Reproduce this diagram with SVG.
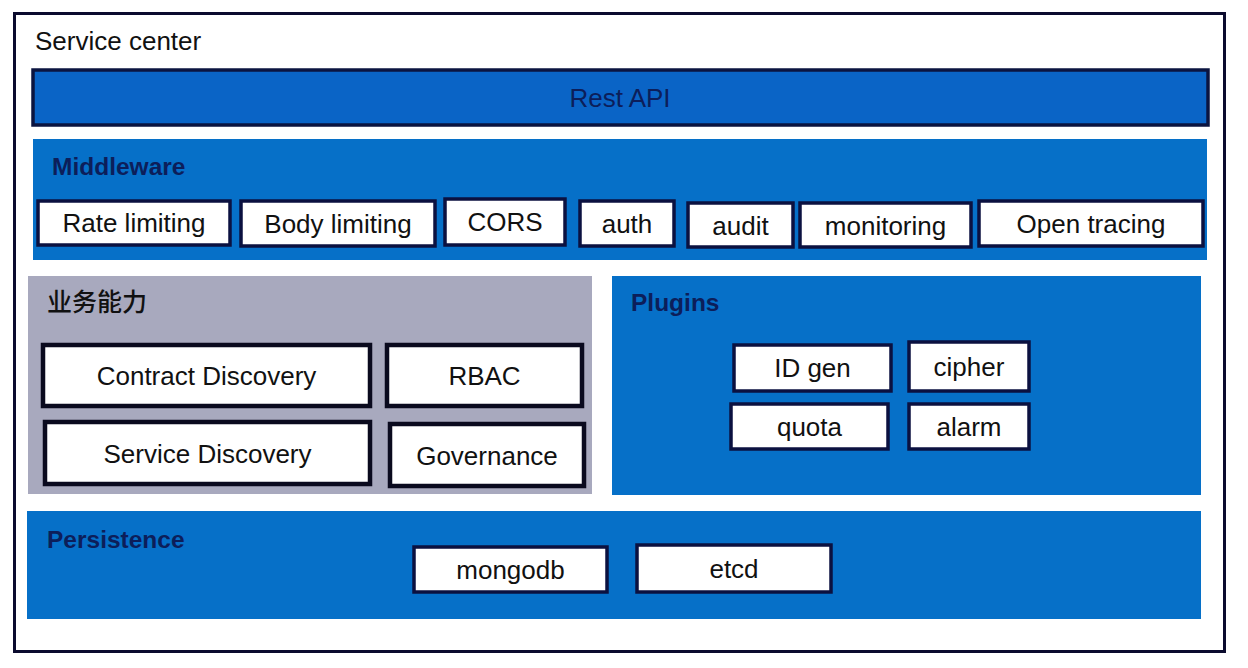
<svg xmlns="http://www.w3.org/2000/svg" width="1248" height="668" viewBox="0 0 1248 668">
  <style>
    .panel { fill: #0670c8; }
    .gray { fill: #a8a9be; }
    .box { fill: #ffffff; stroke: #0b1140; stroke-width: 3.5; }
    .box2 { fill: #ffffff; stroke: #0a0a1e; stroke-width: 4.5; }
    .t { font-family: "Liberation Sans", Arial, sans-serif; font-size: 26px; fill: #111111; text-anchor: middle; }
    .hdr { font-family: "Liberation Sans", Arial, sans-serif; font-size: 24.5px; font-weight: bold; fill: #0c1e5a; }
  </style>
  <rect width="1248" height="668" fill="#ffffff"/>
  <g id="frame">
    <rect x="14.5" y="13.5" width="1210" height="638" fill="#ffffff" stroke="#0b0b2e" stroke-width="3"/>
    <text x="35" y="50" font-family="'Liberation Sans', Arial, sans-serif" font-size="26" fill="#111111">Service center</text>
  </g>
  <g id="rest-api">
    <rect x="33" y="70" width="1175" height="55" fill="#0a64c6" stroke="#0b1440" stroke-width="3.5"/>
    <text x="620" y="107" font-family="'Liberation Sans', Arial, sans-serif" font-size="26" fill="#0c1e5a" text-anchor="middle">Rest API</text>
  </g>
  <g id="middleware">
    <rect class="panel" x="33" y="139" width="1174" height="121"/>
    <text class="hdr" x="52" y="175">Middleware</text>
  </g>
  <g id="rate-limiting"><rect class="box" x="38" y="201" width="192" height="44"/><text class="t" x="134" y="232">Rate limiting</text></g>
  <g id="body-limiting"><rect class="box" x="241" y="201" width="194" height="45"/><text class="t" x="338" y="233">Body limiting</text></g>
  <g id="cors"><rect class="box" x="445" y="199" width="120" height="46"/><text class="t" x="505" y="231">CORS</text></g>
  <g id="auth"><rect class="box" x="580" y="201" width="94" height="45"/><text class="t" x="627" y="233">auth</text></g>
  <g id="audit"><rect class="box" x="688" y="203" width="105" height="44"/><text class="t" x="740.5" y="235">audit</text></g>
  <g id="monitoring"><rect class="box" x="800" y="203" width="171" height="44"/><text class="t" x="885.5" y="235">monitoring</text></g>
  <g id="open-tracing"><rect class="box" x="979" y="201" width="224" height="45"/><text class="t" x="1091" y="233">Open tracing</text></g>

  <g id="business">
    <rect class="gray" x="28" y="276" width="564" height="218"/>
    <text x="47" y="311" font-family="'Noto Sans CJK SC', 'Liberation Sans', sans-serif" font-size="25" font-weight="500" fill="#111111">业务能力</text>
  </g>
  <g id="contract-discovery"><rect class="box2" x="43" y="345" width="327" height="61"/><text class="t" x="206.5" y="385">Contract Discovery</text></g>
  <g id="rbac"><rect class="box2" x="387" y="345" width="195" height="61"/><text class="t" x="484.5" y="385">RBAC</text></g>
  <g id="service-discovery"><rect class="box2" x="45" y="422" width="325" height="62"/><text class="t" x="207.5" y="463">Service Discovery</text></g>
  <g id="governance"><rect class="box2" x="390" y="424" width="194" height="62"/><text class="t" x="487" y="465">Governance</text></g>

  <g id="plugins">
    <rect class="panel" x="612" y="276" width="589" height="219"/>
    <text class="hdr" x="631" y="311">Plugins</text>
  </g>
  <g id="id-gen"><rect class="box" x="734" y="345" width="157" height="46"/><text class="t" x="812.5" y="377">ID gen</text></g>
  <g id="cipher"><rect class="box" x="909" y="342" width="120" height="49"/><text class="t" x="969" y="376">cipher</text></g>
  <g id="quota"><rect class="box" x="731" y="404" width="157" height="45"/><text class="t" x="809.5" y="436">quota</text></g>
  <g id="alarm"><rect class="box" x="909" y="404" width="120" height="45"/><text class="t" x="969" y="436">alarm</text></g>

  <g id="persistence">
    <rect class="panel" x="27" y="511" width="1174" height="108"/>
    <text class="hdr" x="47" y="548">Persistence</text>
  </g>
  <g id="mongodb"><rect class="box" x="414" y="547" width="193" height="45"/><text class="t" x="510.5" y="579">mongodb</text></g>
  <g id="etcd"><rect class="box" x="637" y="545" width="194" height="47"/><text class="t" x="734" y="578">etcd</text></g>

  <g id="connectors"></g>
</svg>
